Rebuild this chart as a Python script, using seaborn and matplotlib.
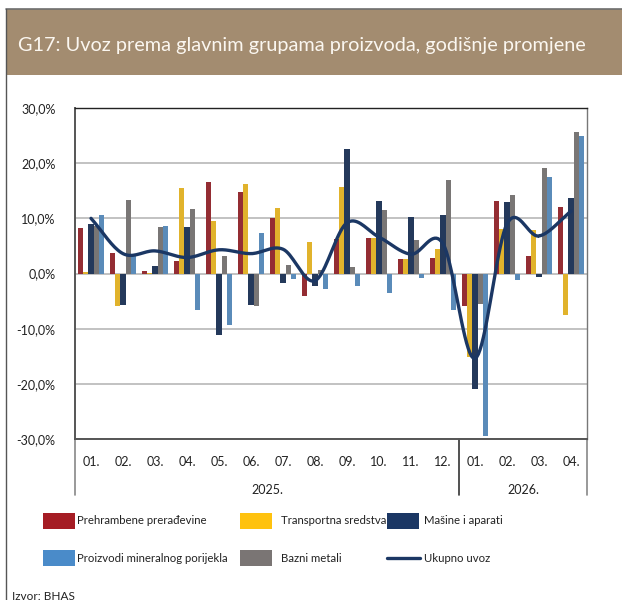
import numpy as np
import pandas as pd
import seaborn as sns
import matplotlib.pyplot as plt
from matplotlib.patches import Rectangle
from matplotlib.lines import Line2D
import matplotlib.transforms as mtransforms

sns.set_style("white")
plt.rcParams['font.family'] = ['Lato', 'DejaVu Sans']

months = ["01.", "02.", "03.", "04.", "05.", "06.", "07.", "08.", "09.", "10.", "11.", "12.",
          "01.", "02.", "03.", "04."]
periods = ["2025-%02d" % m for m in range(1, 13)] + ["2026-%02d" % m for m in range(1, 5)]
years = ["2025.", "2026."]

prehrambene = [8.3, 3.8, 0.4, 2.2, 16.6, 14.8, 10.1, -4.1, 6.3, 6.5, 2.6, 2.9, -5.9, 13.2, 3.1, 12.1]
transportna = [0.2, -5.9, 0.1, 15.5, 9.5, 16.2, 11.8, 5.8, 15.6, 6.4, 2.6, 4.5, -15.1, 8.0, 7.9, -7.6]
masine = [9.0, -5.8, 1.4, 8.5, -11.2, -5.7, -1.7, -2.2, 22.5, 13.2, 10.2, 10.6, -21.0, 13.0, -0.6, 13.6]
bazni = [8.6, 13.3, 8.5, 11.7, 3.1, -5.9, 1.6, 0.7, 1.1, 11.5, 6.1, 16.9, -5.6, 14.3, 19.2, 25.6]
mineralni = [10.6, 3.2, 8.6, -6.6, -9.3, 7.4, -1.0, -2.8, -2.2, -3.5, -0.8, -6.7, -29.4, -1.2, 17.5, 24.9]
ukupno = [10.0, 3.6, 4.1, 2.9, 4.3, 3.6, 4.4, -1.3, 9.2, 6.6, 3.5, 5.4, -15.4, 9.0, 6.8, 11.3]

names = ["Prehrambene prerađevine", "Transportna sredstva", "Mašine i aparati",
         "Bazni metali", "Proizvodi mineralnog porijekla"]
colors = ["#A51C24", "#FFC20E", "#1B3764", "#7A7574", "#4A8BC9"]
line_name = "Ukupno uvoz"
line_color = "#1B3764"

df = pd.DataFrame({
    "period": periods * 5,
    "grupa": np.repeat(names, len(periods)),
    "value": prehrambene + transportna + masine + bazni + mineralni,
})

fig = plt.figure(figsize=(6.22, 6.0), dpi=100)
ax = fig.add_axes([75 / 622, 1 - 439 / 600, (587 - 75) / 622, (439 - 108) / 600])

sns.barplot(data=df, x="period", y="value", hue="grupa", hue_order=names,
            palette=colors, width=0.8, ax=ax, legend=False, linewidth=0)

# smoothed total line (Catmull-Rom through the monthly points)
px = np.arange(len(ukupno), dtype=float)
py = np.array(ukupno, dtype=float)
ext_y = np.concatenate([[2 * py[0] - py[1]], py, [2 * py[-1] - py[-2]]])
sx, sy = [], []
for i in range(len(py) - 1):
    p0, p1, p2, p3 = ext_y[i:i + 4]
    t = np.linspace(0, 1, 20)
    yy = 0.5 * ((2 * p1) + (-p0 + p2) * t + (2 * p0 - 5 * p1 + 4 * p2 - p3) * t ** 2
                + (-p0 + 3 * p1 - 3 * p2 + p3) * t ** 3)
    sx.extend(px[i] + t)
    sy.extend(yy)
ax.plot(sx, sy, color=line_color, lw=2.4, zorder=5, solid_capstyle="round")

ax.set_ylim(-30, 30)
ax.set_xlim(-0.5, len(periods) - 0.5)
ax.set_yticks(np.arange(-30, 31, 10))
ax.set_yticklabels([("%.1f%%" % v).replace(".", ",") for v in np.arange(-30, 31, 10)],
                   fontsize=9, color="#222222")
ax.tick_params(axis="y", length=0, pad=14)
ax.set_xticks([])
ax.set_xlabel("")
ax.set_ylabel("")
ax.grid(axis="y", color="#B8B8B8", lw=1.2)
ax.set_axisbelow(True)
for s in ["left", "bottom"]:
    ax.spines[s].set_color("#555555")
    ax.spines[s].set_linewidth(1.4)
ax.spines["top"].set_color("#222222")
ax.spines["top"].set_linewidth(1.0)
ax.spines["right"].set_color("#777777")
ax.spines["right"].set_linewidth(1.0)

# category axis labels
tr = mtransforms.blended_transform_factory(ax.transData, ax.transAxes)
for i, m in enumerate(months):
    ax.text(i, -0.07, m, transform=tr, ha="center", va="center", fontsize=9, color="#222222")
ax.text(5.5, -0.155, years[0], transform=tr, ha="center", va="center", fontsize=9, color="#222222")
ax.text(13.5, -0.155, years[1], transform=tr, ha="center", va="center", fontsize=9, color="#222222")
for xv, c in [(-0.5, "#888888"), (11.5, "#333333"), (len(periods) - 0.5, "#888888")]:
    ax.add_line(Line2D([xv, xv], [0, -0.17], transform=tr, color=c, lw=1.2, clip_on=False))

# title band
fig.add_artist(Rectangle((6 / 622, 1 - 75 / 600), 1, 66 / 600, transform=fig.transFigure,
                         facecolor="#A38C70", edgecolor="none"))
fig.add_artist(Line2D([6 / 622, 1], [1 - 9 / 600, 1 - 9 / 600], transform=fig.transFigure,
                      color="#6E6E6E", lw=1.2))
fig.add_artist(Line2D([6 / 622, 6 / 622], [0, 1 - 9 / 600], transform=fig.transFigure,
                      color="#555555", lw=1.0))
fig.text(18 / 622, 1 - 45 / 600, "G17: Uvoz prema glavnim grupama proizvoda, godišnje promjene",
         fontsize=14.3, color="#FBF7F0", va="center", ha="left")

# legend
leg_items = [
    (43, 521, names[0], colors[0], 77), (240, 521, names[1], colors[1], 281),
    (387, 521, names[2], colors[2], 424), (43, 558, names[4], colors[4], 77),
    (240, 558, names[3], colors[3], 281),
]
for x0, y0, lab, col, tx in leg_items:
    fig.add_artist(Rectangle((x0 / 622, 1 - (y0 + 8) / 600), 32 / 622, 16 / 600,
                             transform=fig.transFigure, facecolor=col, edgecolor="none"))
    fig.text(tx / 622, 1 - y0 / 600, lab, fontsize=8.2, va="center", ha="left", color="#222222")
fig.add_artist(Line2D([387 / 622, 420 / 622], [1 - 558 / 600, 1 - 558 / 600],
                      transform=fig.transFigure, color=line_color, lw=2.4))
fig.text(424 / 622, 1 - 558 / 600, line_name, fontsize=8.2, va="center", ha="left", color="#222222")

fig.text(12 / 622, 1 - 596 / 600, "Izvor: BHAS", fontsize=8.5, va="center", ha="left", color="#222222")

plt.savefig("out.png", dpi=100)
